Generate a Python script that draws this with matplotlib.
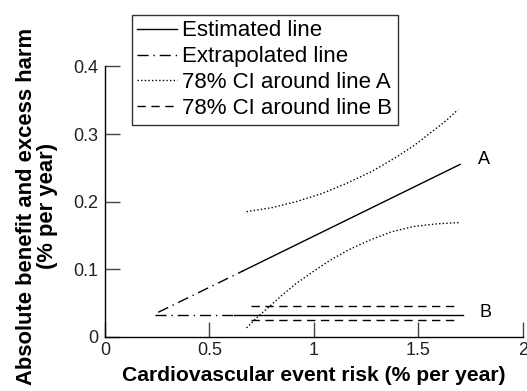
import matplotlib
matplotlib.use("Agg")
import matplotlib.pyplot as plt

plt.rcParams["font.family"] = ["Liberation Sans", "DejaVu Sans"]

# Line A (benefit): estimated and extrapolated parts
a_est_x = [0.662, 1.70]
a_est_y = [0.0975, 0.255]
a_ext_x = [0.255, 0.662]
a_ext_y = [0.036, 0.0975]

# 78% CI around line A
ci_a_up_x = [0.678, 0.80, 0.917, 1.04, 1.157, 1.28, 1.396, 1.48, 1.555, 1.63, 1.69]
ci_a_up_y = [0.185, 0.191, 0.200, 0.212, 0.227, 0.245, 0.266, 0.283, 0.301, 0.319, 0.336]
ci_a_lo_x = [0.678, 0.73, 0.789, 0.85, 0.917, 1.00, 1.077, 1.17, 1.268, 1.37, 1.475, 1.59, 1.699]
ci_a_lo_y = [0.013, 0.029, 0.045, 0.062, 0.079, 0.097, 0.113, 0.129, 0.143, 0.155, 0.163, 0.167, 0.169]

# Line B (harm): constant
b_level = 0.0314
b_est_x = [0.617, 1.713]
b_ext_x = [0.239, 0.617]
ci_b_x = [0.70, 1.683]
ci_b_up = 0.045
ci_b_lo = 0.0244

fig = plt.figure(figsize=(5.27, 3.91), dpi=100)
ax = fig.add_axes([0.199, 0.139, 0.793, 0.691])

lw = 1.0
dashdot = (0, (8, 3.5, 1, 3.5))
dotted = (0, (1, 1.6))
dashed = (0, (6, 4))

h1, = ax.plot(a_est_x, a_est_y, color="black", lw=lw)
h2, = ax.plot(a_ext_x, a_ext_y, color="black", lw=lw, linestyle=dashdot)
h3, = ax.plot(ci_a_up_x, ci_a_up_y, color="black", lw=lw, linestyle=dotted)
ax.plot(ci_a_lo_x, ci_a_lo_y, color="black", lw=lw, linestyle=dotted)

ax.plot(b_est_x, [b_level] * 2, color="black", lw=lw)
ax.plot(b_ext_x, [b_level] * 2, color="black", lw=lw, linestyle=dashdot)
h4, = ax.plot(ci_b_x, [ci_b_up] * 2, color="black", lw=lw, linestyle=dashed)
ax.plot(ci_b_x, [ci_b_lo] * 2, color="black", lw=lw, linestyle=dashed)

ax.text(1.785, 0.263, "A", fontsize=13, va="center", ha="left")
ax.text(1.792, 0.0353, "B", fontsize=13, va="center", ha="left")

ax.set_xlim(0, 2)
ax.set_ylim(0, 0.4)
ax.set_xticks([0, 0.5, 1, 1.5, 2])
ax.set_xticklabels(["0", "0.5", "1", "1.5", "2"])
ax.set_yticks([0, 0.1, 0.2, 0.3, 0.4])
ax.set_yticklabels(["0", "0.1", "0.2", "0.3", "0.4"])
ax.spines["top"].set_visible(False)
ax.spines["right"].set_visible(False)
for s in ("left", "bottom"):
    ax.spines[s].set_linewidth(1.0)
ax.tick_params(direction="in", length=11, width=1.0, labelsize=13,
               color="#444444", labelcolor="#222222")
ax.tick_params(axis="x", pad=4)
ax.tick_params(axis="y", pad=5)

ax.set_xlabel("Cardiovascular event risk (% per year)", fontsize=15.2,
              fontweight="bold", labelpad=5)
ax.set_ylabel("Absolute benefit and excess harm\n(% per year)", fontsize=15.8,
              fontweight="bold", labelpad=11, linespacing=0.95)
ax.yaxis.label.set_y(0.483)

leg = fig.legend([h1, h2, h3, h4],
                 ["Estimated line", "Extrapolated line",
                  "78% CI around line A", "78% CI around line B"],
                 loc="upper left", bbox_to_anchor=(0.250, 0.962),
                 fontsize=16, frameon=True, fancybox=False,
                 handlelength=1.8, handletextpad=0.22, borderpad=0.25,
                 labelspacing=0.22, borderaxespad=0)
leg.get_frame().set_edgecolor("black")
leg.get_frame().set_linewidth(1.0)

fig.savefig("out.png", dpi=100)
